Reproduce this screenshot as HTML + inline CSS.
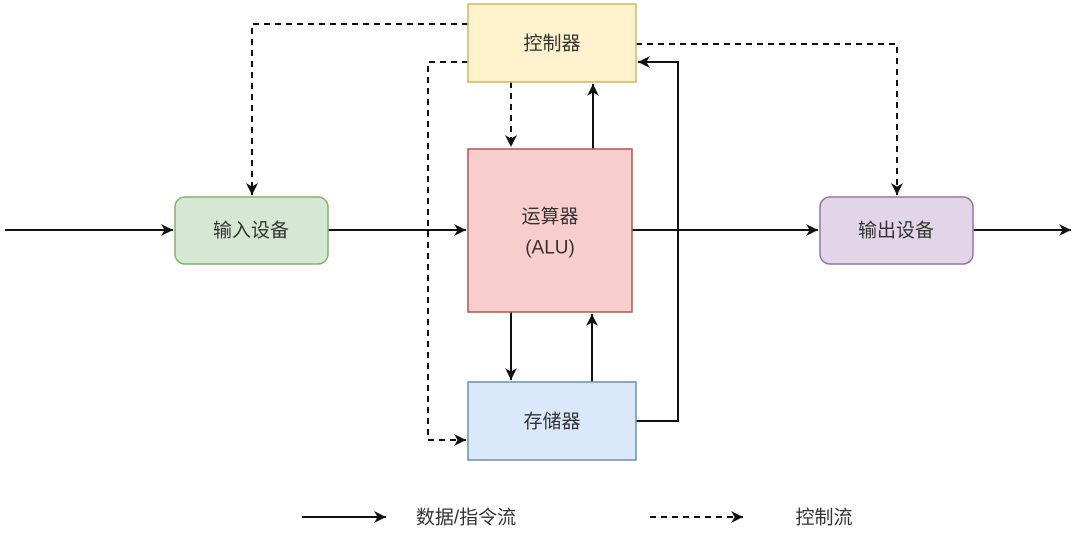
<!DOCTYPE html>
<html><head><meta charset="utf-8"><style>
body{margin:0;background:#fff;width:1080px;height:532px;overflow:hidden}
svg text{font-family:"Liberation Sans","Noto Sans CJK SC",sans-serif;fill:#333;font-size:19px;text-anchor:middle;dominant-baseline:central}
</style></head><body>
<svg width="1080" height="532" viewBox="0 0 1080 532">
<defs><marker id="a" viewBox="0 0 10 10" refX="10" refY="5" markerWidth="8" markerHeight="8" orient="auto" markerUnits="userSpaceOnUse"><path d="M0,0 L10,5 L0,10 L3,5z" fill="#111"/></marker>
<marker id="b" viewBox="0 0 10 10" refX="10" refY="5" markerWidth="12" markerHeight="12" orient="auto" markerUnits="userSpaceOnUse"><path d="M0,0 L10,5 L0,10 L3,5z" fill="#111"/></marker></defs>
<g stroke="#111" stroke-width="2" fill="none">
<path d="M5 230H173" marker-end="url(#b)"/>
<path d="M328 230H466" marker-end="url(#b)"/>
<path d="M632 230H818" marker-end="url(#b)"/>
<path d="M973 230H1071" marker-end="url(#b)"/>
<path d="M593 149V84" marker-end="url(#b)"/>
<path d="M636 421H678V62H638" marker-end="url(#b)"/>
<path d="M511 312V380" marker-end="url(#b)"/>
<path d="M592 382V314" marker-end="url(#b)"/>
<g stroke-dasharray="6,5">
<path d="M468 24H252V195" marker-end="url(#b)"/>
<path d="M468 62H428V440H466" marker-end="url(#b)"/>
<path d="M511 82V147" marker-end="url(#b)"/>
<path d="M636 44H897V195" marker-end="url(#b)"/>
</g>
<path d="M302 517H386" marker-end="url(#b)"/>
<path d="M650 517H743" stroke-dasharray="6,5" marker-end="url(#b)"/>
</g>
<rect x="468" y="4" width="168" height="78" fill="#fff2cc" stroke="#d6b656" stroke-width="1.5"/>
<rect x="468" y="149" width="164" height="163" fill="#f8cecc" stroke="#b85450" stroke-width="1.5"/>
<rect x="468" y="382" width="168" height="78" fill="#dae8fc" stroke="#6c8ebf" stroke-width="1.5"/>
<rect x="175" y="197" width="153" height="67" rx="10" fill="#d5e8d4" stroke="#82b366" stroke-width="1.5"/>
<rect x="820" y="197" width="153" height="67" rx="10" fill="#e1d5e7" stroke="#9673a6" stroke-width="1.5"/>
<text x="552" y="44">控制器</text>
<text x="550" y="217">运算器</text>
<text x="550" y="248">(ALU)</text>
<text x="552" y="422">存储器</text>
<text x="251" y="231">输入设备</text>
<text x="896" y="231">输出设备</text>
<text x="466" y="518">数据/指令流</text>
<text x="824" y="518">控制流</text>
</svg>
</body></html>
